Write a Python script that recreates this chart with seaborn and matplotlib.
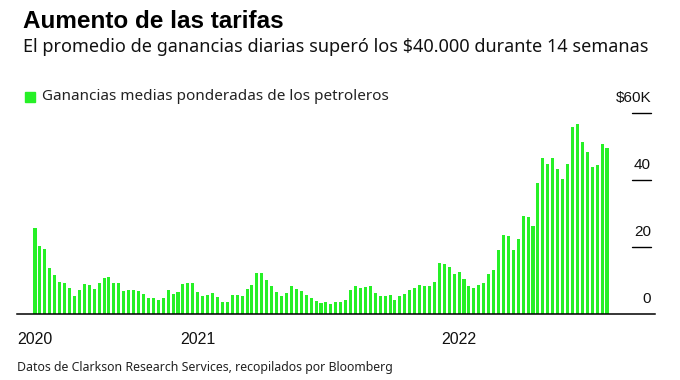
import matplotlib
matplotlib.use("Agg")
import matplotlib.pyplot as plt
import matplotlib.transforms as mtransforms
import seaborn as sns
import pandas as pd

# ---- data (weekly weighted average tanker earnings, $K/day) ----
earnings = [
    25.8, 20.4, 19.4, 13.8, 11.6, 9.6, 9.3, 7.8, 5.5, 7.1, 9.0, 8.7, 7.4, 9.3, 10.9, 11.2,
    9.3, 9.3, 6.8, 7.1, 7.1, 6.8, 5.9, 4.8,
    4.9, 4.3, 4.9, 7.2, 5.9, 6.5, 9.1, 9.4, 9.4, 6.5, 5.3, 5.6, 6.2, 5.2, 3.7, 3.7,
    5.6, 5.6, 5.3, 7.5, 8.7, 12.2, 12.2,
    10.3, 8.4, 6.5, 5.3, 6.2, 8.4, 7.5, 6.8, 5.6, 4.9, 4.0, 3.4, 3.7, 3.1, 3.7, 3.7, 4.3,
    7.2, 8.4, 7.8, 8.1, 8.4, 6.2, 5.5, 5.5, 5.8, 4.3, 5.5, 5.9, 7.1, 7.8, 8.7, 8.4, 8.4,
    9.7, 15.4, 15.0, 14.1, 11.9, 12.5, 10.6, 8.4, 7.8, 8.7, 9.3, 11.9, 13.2, 19.1,
    23.6, 23.2, 19.1, 22.3, 29.3, 29.0, 26.4, 39.3, 46.6, 44.8, 46.8, 43.5, 40.3, 44.8,
    55.8, 56.7, 51.3, 48.5, 44.1, 44.7, 50.7, 49.5,
]
week = list(range(len(earnings)))
year_labels = ["2020", "2021", "2022"]
year_first_week = [0, 33, 86]
y_ticks = [0, 20, 40, 60]
y_tick_labels = ["0", "20", "40", "$60K"]

title = "Aumento de las tarifas"
subtitle = "El promedio de ganancias diarias superó los $40.000 durante 14 semanas"
legend_label = "Ganancias medias ponderadas de los petroleros"
source = "Datos de Clarkson Research Services, recopilados por Bloomberg"

df = pd.DataFrame({"week": week, "earnings": earnings})

GREEN = "#26f026"
W, H = 680, 380

sns.set_theme(style="white")
plt.rcParams["font.family"] = ["Liberation Sans", "DejaVu Sans"]

fig = plt.figure(figsize=(W / 100, H / 100), dpi=100)
fig.patch.set_facecolor("white")

left_px, right_px, base_px, top_px = 17, 655, 314, 100
ax = fig.add_axes([left_px / W, (H - base_px) / H,
                   (right_px - left_px) / W, (base_px - top_px) / H])

sns.barplot(data=df, x="week", y="earnings", color=GREEN, saturation=1,
            width=0.62, ax=ax, linewidth=0)

px_per_bar = 4.93
ax.set_xlim(-(35 - left_px) / px_per_bar, len(earnings) - 1 + (right_px - 607) / px_per_bar)
ax.set_ylim(0, (base_px - top_px) / 3.344)

for s in ["top", "left", "right"]:
    ax.spines[s].set_visible(False)
ax.spines["bottom"].set_color("black")
ax.spines["bottom"].set_linewidth(1.1)

ax.set_xticks(year_first_week)
ax.set_xticklabels(year_labels, fontsize=11.5, color="#111111")
ax.tick_params(axis="x", length=6, width=1, color="#777777", pad=7, direction="out")
ax.set_yticks([])
ax.set_xlabel("")
ax.set_ylabel("")

# right-side value labels with short guide lines
trans = mtransforms.blended_transform_factory(ax.transAxes, ax.transData)
x0 = (632 - left_px) / (right_px - left_px)
x1 = (651 - left_px) / (right_px - left_px)
for v, lab in zip(y_ticks, y_tick_labels):
    if v > 0:
        ax.plot([x0, x1], [v, v], transform=trans, color="black", lw=1, clip_on=False)
    ax.text(x1, v + 4.6, lab, transform=trans, ha="right", va="center",
            fontsize=11, color="#111111", clip_on=False)

sub_font = ["Noto Sans", "DejaVu Sans"]
fig.text(23 / W, 1 - 21 / H, title, fontsize=17.5, fontweight="bold",
         ha="left", va="center", color="black")
fig.text(23 / W, 1 - 47 / H, subtitle, fontsize=13, family=sub_font,
         ha="left", va="center", color="#111111")

# legend
fig.patches.append(plt.Rectangle((25 / W, 1 - 102 / H), 10 / W, 10 / H,
                                 transform=fig.transFigure, color=GREEN, figure=fig))
fig.text(42 / W, 1 - 97 / H, legend_label, fontsize=11, family=sub_font,
         ha="left", va="center", color="#222222")

fig.text(17 / W, 1 - 367 / H, source, fontsize=8.9, family=sub_font,
         ha="left", va="center", color="#222222")

fig.savefig("out.png", dpi=100, facecolor="white")
